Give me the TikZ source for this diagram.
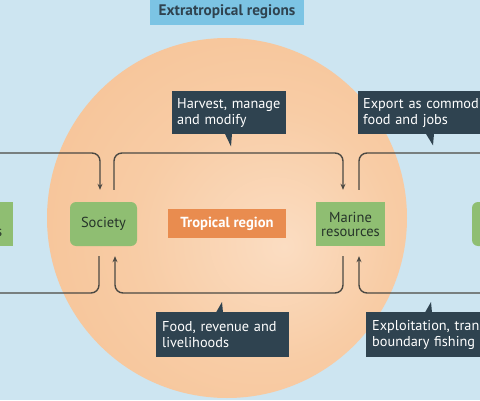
\documentclass[tikz,border=0pt]{standalone}
\usepackage{fontspec}
\setmainfont{PT Sans}
\usetikzlibrary{arrows.meta,calc}
\definecolor{bg}{HTML}{CDE5F1}
\definecolor{glowin}{HTML}{FBDDC2}
\definecolor{glowmid}{HTML}{F8CCA5}
\definecolor{glowout}{HTML}{F4BA88}
\definecolor{boxgreen}{HTML}{8FBE72}
\definecolor{boxorange}{HTML}{E98C4F}
\definecolor{titleblue}{HTML}{7CC4E4}
\definecolor{calloutc}{HTML}{2F4350}
\definecolor{linec}{HTML}{4B4943}
\definecolor{darktext}{HTML}{26342A}
\pgfdeclareradialshading{glow}{\pgfpoint{8bp}{-4bp}}{color(0bp)=(glowin); color(18bp)=(glowmid); color(50bp)=(glowout)}
\tikzset{
  greenbox/.style={fill=boxgreen, text=darktext, minimum height=44pt, font=\fontsize{14.5}{15}\selectfont, align=center, inner sep=1pt},
  callout/.style={fill=calloutc, text=white, anchor=north west, align=left, inner xsep=5pt, inner ysep=2pt, font=\fontsize{14.3}{16}\selectfont},
  flow/.style={draw=linec, line width=1.4pt, rounded corners=8pt, -{Stealth[length=6pt,width=5pt]}},
  plainline/.style={draw=linec, line width=1.4pt, rounded corners=8pt}
}
\begin{document}
\begin{tikzpicture}[x=1pt,y=1pt]
\clip (0,0) rectangle (480,400);
\fill[bg] (0,0) rectangle (480,400);
\shade[shading=glow] (227,182) circle (180);

% title
\node[fill=titleblue, text=calloutc, minimum width=154pt, minimum height=27pt, font=\bfseries\fontsize{15.3}{16}\selectfont] (title) at (227,388) {Extratropical regions};

% boxes
\node[greenbox, rounded corners=6pt, minimum width=67pt] (soc) at (103.5,176) {Society};
\node[greenbox, minimum width=69pt] (mar) at (350.5,176) {Marine\\[-1pt]resources};
\node[greenbox, minimum width=80pt] (lmar) at (-27,176) {Marine\\[-1pt]resources};
\node[greenbox, rounded corners=6pt, minimum width=67pt] (rsoc) at (505.5,176) {Society};
\node[fill=boxorange, text=white, minimum width=118pt, minimum height=29pt, font=\bfseries\fontsize{14.6}{15}\selectfont] (trop) at (227,176.5) {Tropical region};

% free ends
\coordinate (tl) at (0,247);
\coordinate (tr) at (480,247);
\coordinate (bl) at (0,107);
\coordinate (br) at (480,107);

% top connectors
\draw[flow] (tl) -| ([xshift=-3.5pt,yshift=12pt]soc.north);
\coordinate (sa) at ([xshift=10.5pt,yshift=12pt]soc.north);
\draw[flow] (sa) -- (sa |- tl) -| ([xshift=-7.5pt,yshift=12pt]mar.north);
\coordinate (ma) at ([xshift=8.5pt,yshift=12pt]mar.north);
\draw[plainline] (ma) |- (tr);

% bottom connectors
\draw[plainline] ([xshift=-4.5pt,yshift=-10pt]soc.south) |- (bl);
\coordinate (mb) at ([xshift=-7.5pt,yshift=-10pt]mar.south);
\draw[flow] (mb) -- (mb |- bl) -| ([xshift=11.5pt,yshift=-10pt]soc.south);
\draw[flow] (br) -| ([xshift=8.5pt,yshift=-10pt]mar.south);

% callouts
\node[callout, minimum width=114pt, minimum height=43pt, text width=104pt] (harv) at (172,309) {Harvest, manage\\and modify};
\fill[calloutc] ($(harv.south west)+(53,0.5)$) -- ($(harv.south west)+(60,0.5)$) -- ($(harv.south west)+(59,-12)$) -- cycle;

\node[callout, minimum width=170pt, minimum height=43pt, text width=160pt] (expo) at (358,309) {Export as commodities,\\food and jobs};
\fill[calloutc] ($(expo.south west)+(68,0.5)$) -- ($(expo.south west)+(76,0.5)$) -- ($(expo.south west)+(75,-11)$) -- cycle;

\node[callout, minimum width=133pt, minimum height=45pt, text width=121pt, inner xsep=6pt] (food) at (156,88) {Food, revenue and\\livelihoods};
\fill[calloutc] ($(food.north west)+(60,-0.5)$) -- ($(food.north west)+(67,-0.5)$) -- ($(food.north west)+(66,10)$) -- cycle;

\node[callout, minimum width=170pt, minimum height=45pt, text width=158pt, inner xsep=6pt] (expl) at (366,88) {Exploitation, trans-\\boundary fishing};
\fill[calloutc] ($(expl.north west)+(59,-0.5)$) -- ($(expl.north west)+(66,-0.5)$) -- ($(expl.north west)+(65,10)$) -- cycle;
\end{tikzpicture}
\end{document}
